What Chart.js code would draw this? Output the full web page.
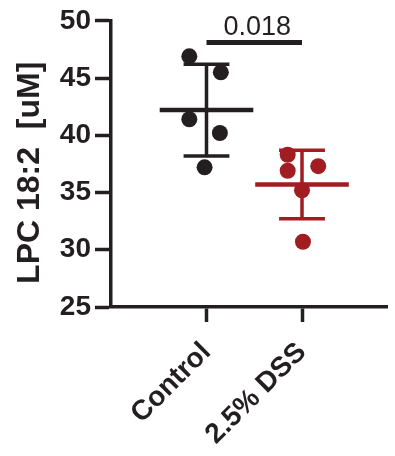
<!DOCTYPE html>
<html>
<head>
<meta charset="utf-8">
<script src="https://cdn.jsdelivr.net/npm/chart.js@4.4.1/dist/chart.umd.min.js"></script>
<style>
  html, body { margin: 0; padding: 0; background: #fff; }
  #wrap { position: relative; width: 395px; height: 456px; }
</style>
</head>
<body>
<div id="wrap"><canvas id="myChart"></canvas></div>
<script>
// data
const groups = ["Control", "2.5% DSS"];
const groupPos = [1, 2];
const controlValues = [46.9, 45.5, 41.4, 40.2, 37.2];
const controlJitter = [-0.18, 0.15, -0.18, 0.14, -0.02];
const dssValues = [38.3, 37.3, 36.9, 35.2, 30.7];
const dssJitter = [-0.15, 0.17, -0.15, 0.0, 0.01];
const meanValues = [42.2, 35.7];
const sdValues = [4.0, 3.0];
const yTicks = [25, 30, 35, 40, 45, 50];
const pValue = "0.018";
const pBarLevel = 48.1;

const groupColors = ["#231f20", "#a11d22"];
const FONT = "'Liberation Sans', Arial, Helvetica, sans-serif";

// mean line + SD whiskers, and the p-value bar
const meanSdPlugin = {
  id: "meanSd",
  afterDatasetsDraw(chart) {
    const { ctx, scales: { x, y } } = chart;
    ctx.save();
    ctx.lineCap = "butt";
    groupPos.forEach((g, i) => {
      ctx.strokeStyle = groupColors[i];
      const cx = x.getPixelForValue(g);
      const m = y.getPixelForValue(meanValues[i]);
      const top = y.getPixelForValue(meanValues[i] + sdValues[i]);
      const bot = y.getPixelForValue(meanValues[i] - sdValues[i]);

      ctx.lineWidth = 3.5;
      ctx.beginPath();
      ctx.moveTo(cx, top);
      ctx.lineTo(cx, bot);
      ctx.moveTo(x.getPixelForValue(g - 0.24), top);
      ctx.lineTo(x.getPixelForValue(g + 0.24), top);
      ctx.moveTo(x.getPixelForValue(g - 0.24), bot);
      ctx.lineTo(x.getPixelForValue(g + 0.24), bot);
      ctx.stroke();

      ctx.lineWidth = 4.5;
      ctx.beginPath();
      ctx.moveTo(x.getPixelForValue(g - 0.49), m);
      ctx.lineTo(x.getPixelForValue(g + 0.49), m);
      ctx.stroke();
    });

    // significance bar
    const by = y.getPixelForValue(pBarLevel);
    ctx.strokeStyle = "#231f20";
    ctx.lineWidth = 5;
    ctx.beginPath();
    ctx.moveTo(x.getPixelForValue(groupPos[0]), by);
    ctx.lineTo(x.getPixelForValue(groupPos[1]), by);
    ctx.stroke();

    ctx.fillStyle = "#231f20";
    ctx.font = "27px " + FONT;
    ctx.textAlign = "center";
    ctx.textBaseline = "alphabetic";
    ctx.fillText(pValue, x.getPixelForValue((groupPos[0] + groupPos[1]) / 2) + 3, by - 8);
    ctx.restore();
  }
};

const ctx = document.getElementById("myChart").getContext("2d");

new Chart(ctx, {
  type: "scatter",
  data: {
    datasets: [
      {
        label: groups[0],
        data: controlValues.map((v, i) => ({ x: groupPos[0] + controlJitter[i], y: v })),
        backgroundColor: groupColors[0],
        borderColor: groupColors[0],
        pointRadius: 8,
        pointBorderWidth: 0,
      },
      {
        label: groups[1],
        data: dssValues.map((v, i) => ({ x: groupPos[1] + dssJitter[i], y: v })),
        backgroundColor: groupColors[1],
        borderColor: groupColors[1],
        pointRadius: 8,
        pointBorderWidth: 0,
      },
    ],
  },
  options: {
    responsive: true,
    maintainAspectRatio: false,
    animation: false,
    layout: { padding: { top: 10, left: 0, right: 0, bottom: 0 } },
    plugins: {
      legend: { display: false },
      tooltip: { enabled: false },
    },
    scales: {
      x: {
        type: "linear",
        min: 0,
        max: 2.89,
        afterBuildTicks: (scale) => {
          scale.ticks = groupPos.map((v) => ({ value: v }));
        },
        afterFit: (scale) => {
          scale.height = 149;
        },
        border: { display: true, color: "#231f20", width: 3.5 },
        grid: {
          drawOnChartArea: false,
          drawTicks: true,
          tickLength: 15,
          tickWidth: 3.5,
          color: "#231f20",
        },
        ticks: {
          autoSkip: false,
          minRotation: 45,
          maxRotation: 45,
          padding: 14,
          color: "#231f20",
          font: { family: FONT, size: 28, weight: "bold" },
          callback: (v) => groups[groupPos.indexOf(v)],
        },
      },
      y: {
        min: 25,
        max: 50,
        afterBuildTicks: (scale) => {
          scale.ticks = yTicks.map((v) => ({ value: v }));
        },
        afterFit: (scale) => {
          scale.width = 111;
        },
        border: { display: true, color: "#231f20", width: 3.5 },
        grid: {
          drawOnChartArea: false,
          drawTicks: true,
          tickLength: 16,
          tickWidth: 3.5,
          color: "#231f20",
        },
        ticks: {
          padding: 4,
          color: "#231f20",
          font: { family: FONT, size: 28, weight: "bold" },
        },
        title: {
          display: true,
          // trailing spaces nudge the rotated title down a little, as in the original
          text: "LPC 18:2  [uM]  ",
          color: "#231f20",
          font: { family: FONT, size: 32, weight: "bold" },
          padding: { top: 11, bottom: 0 },
        },
      },
    },
  },
  plugins: [meanSdPlugin],
});
</script>
</body>
</html>
